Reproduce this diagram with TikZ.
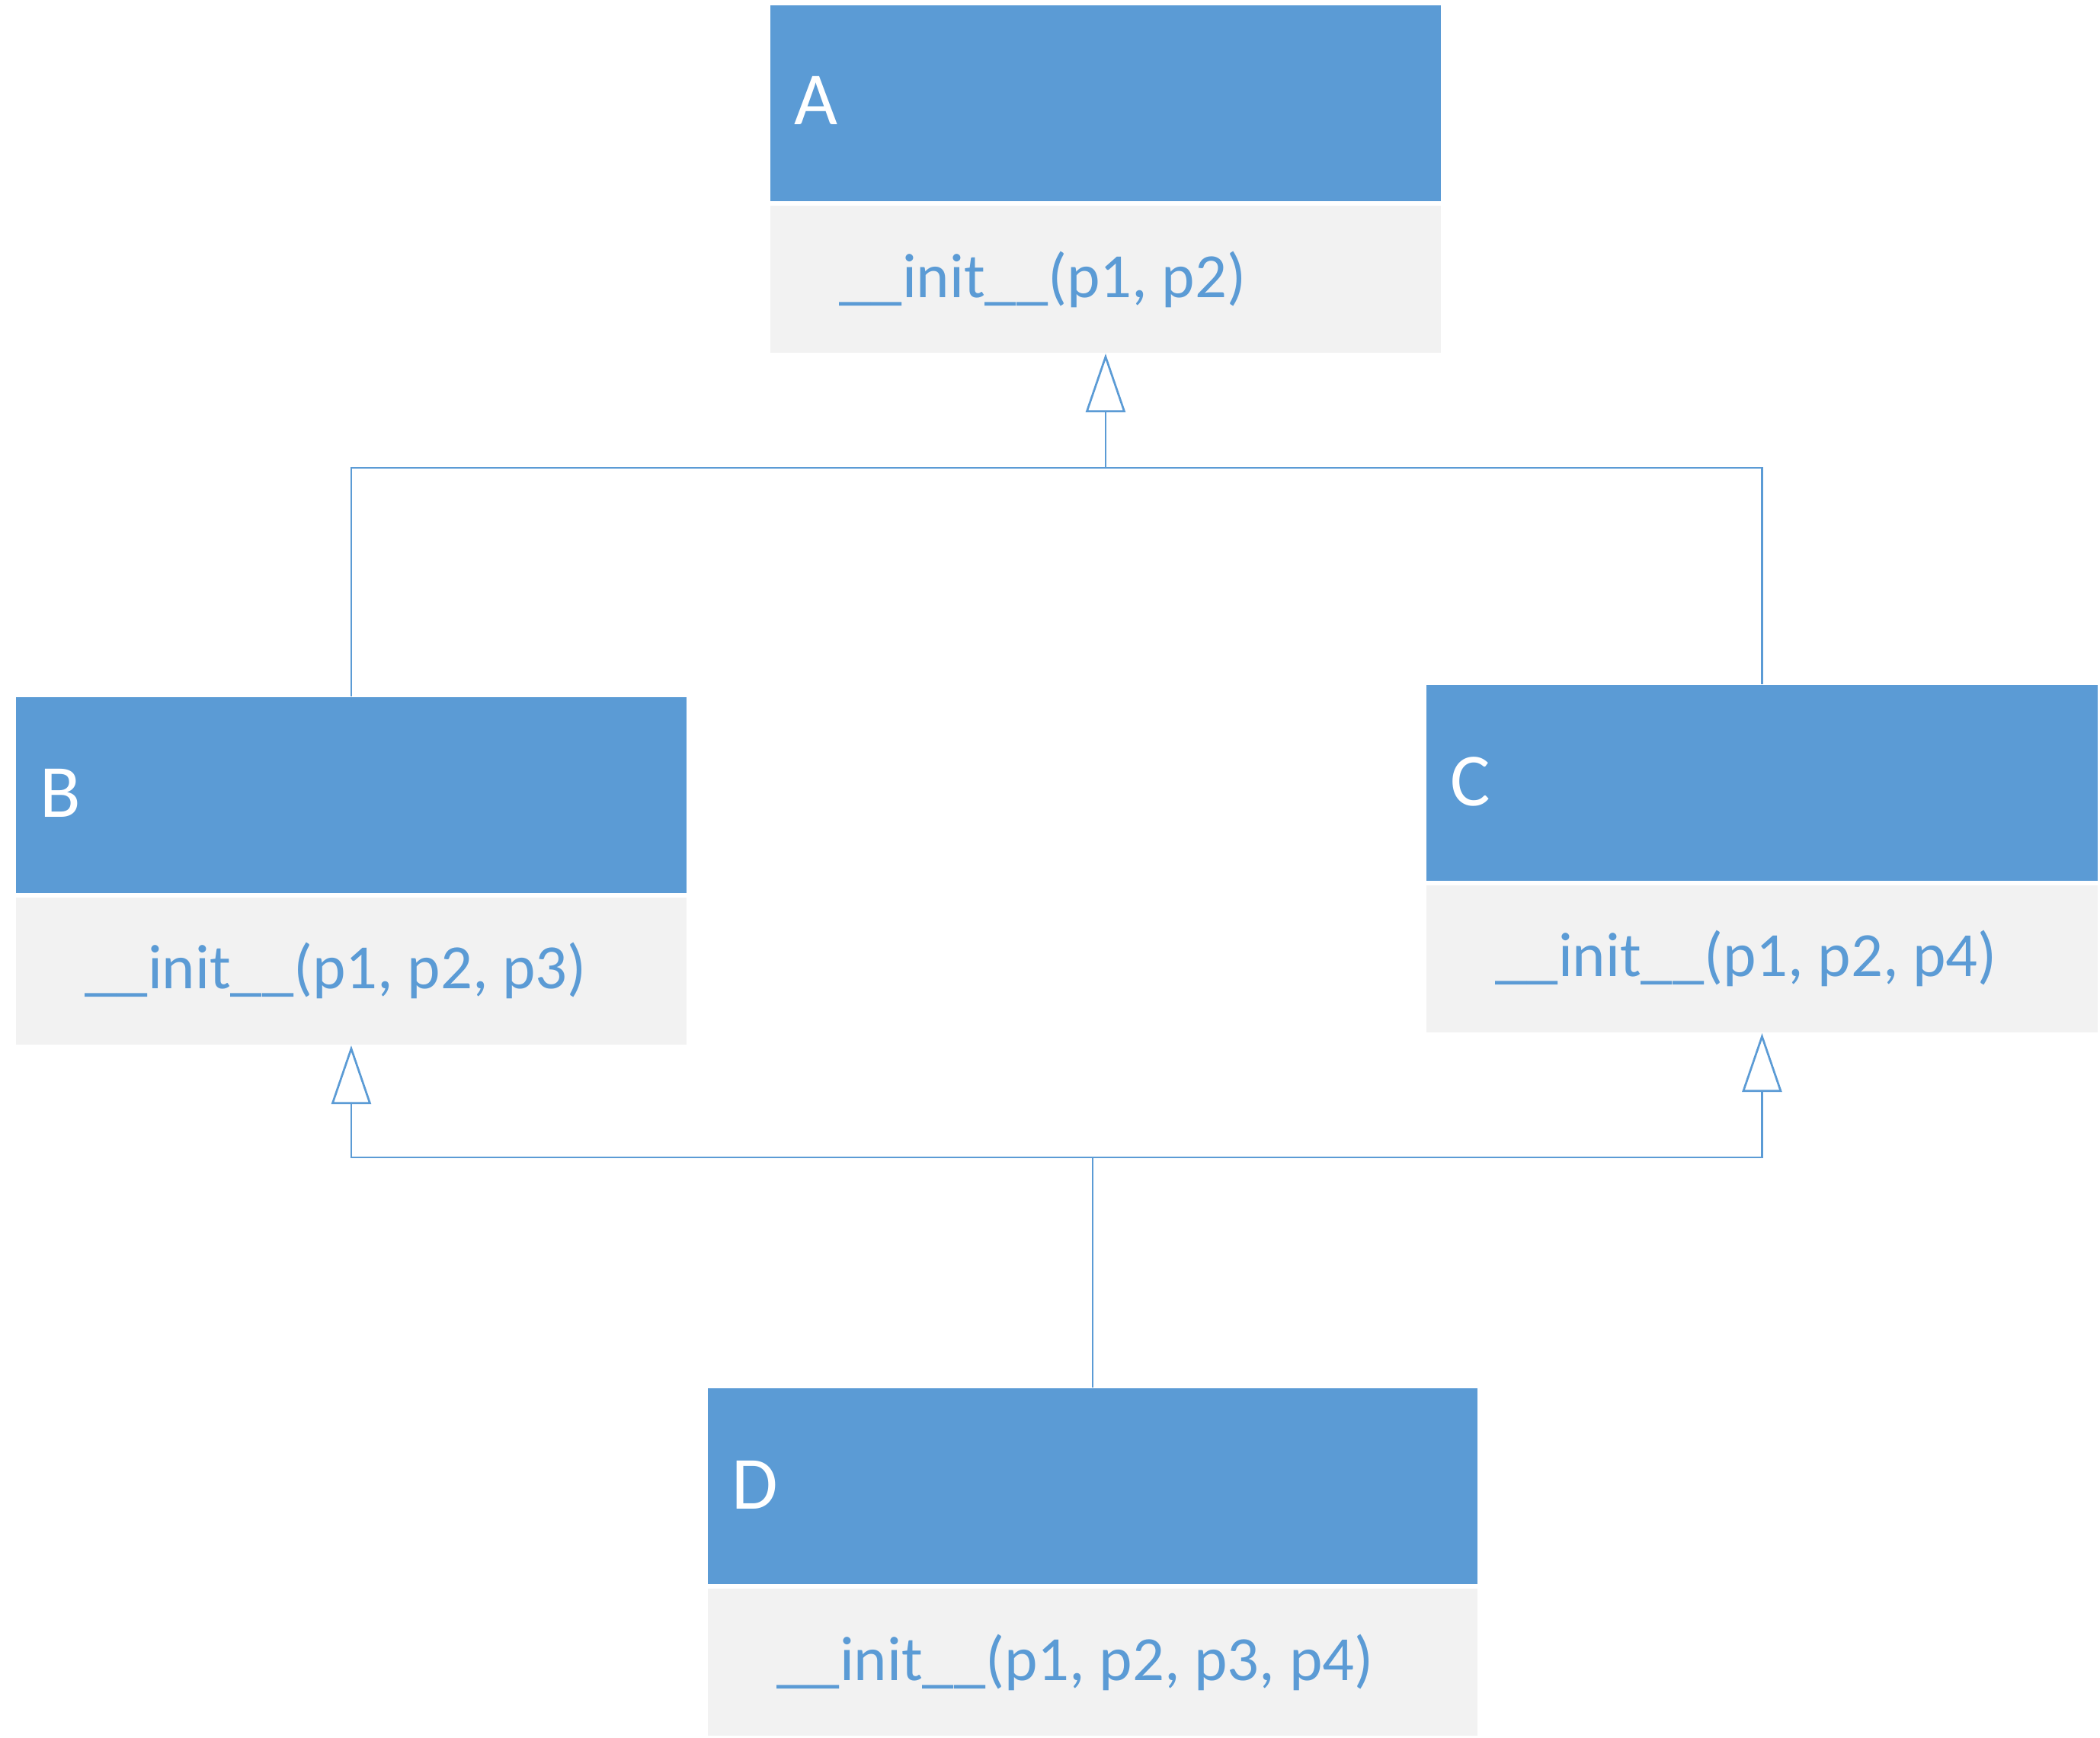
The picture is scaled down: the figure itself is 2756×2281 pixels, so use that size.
\documentclass[tikz,border=0pt]{standalone}
\usepackage{fontspec}
\setmainfont{Carlito}
\usetikzlibrary{positioning, arrows.meta}
\definecolor{classblue}{HTML}{5B9BD5}
\definecolor{bodygray}{HTML}{F2F2F2}
\tikzset{
  classhead/.style = {fill=classblue, anchor=north west, inner sep=0pt, minimum height=2.57cm},
  classbody/.style = {fill=bodygray, inner sep=0pt, minimum height=1.93cm},
  classname/.style = {text=white, inner sep=0pt, anchor=base west, font=\fontsize{28}{34}\selectfont},
  classmethod/.style = {text=classblue, inner sep=0pt, anchor=base west, font=\fontsize{23.5}{28}\selectfont},
  link/.style = {classblue, line width=0.027cm},
  inherit/.style = {link, -{Triangle[open, length=0.77cm, width=0.52cm, fill=white]}}
}

\begin{document}
\begin{tikzpicture}[x=0.01cm, y=-0.01cm]
\useasboundingbox (0,0) rectangle (2756,2281);

% classes
\node[classhead, minimum width=8.8cm] (A) at (1010,6) {};
\node[classbody, minimum width=8.8cm, below=0.05cm of A] (Am) {};
\node[classname] (Aname) at ([shift={(32,157)}]A.north west) {A};
\node[classmethod] (Ainit) at ([shift={(91,121)}]Am.north west) {\_\_init\_\_(p1, p2)};

\node[classhead, minimum width=8.8cm] (B) at (20,914) {};
\node[classbody, minimum width=8.8cm, below=0.05cm of B] (Bm) {};
\node[classname] (Bname) at ([shift={(32,158)}]B.north west) {B};
\node[classmethod] (Binit) at ([shift={(91,120)}]Bm.north west) {\_\_init\_\_(p1, p2, p3)};

\node[classhead, minimum width=8.81cm] (C) at (1871,898) {};
\node[classbody, minimum width=8.81cm, below=0.05cm of C] (Cm) {};
\node[classname] (Cname) at ([shift={(32,159)}]C.north west) {C};
\node[classmethod] (Cinit) at ([shift={(91,120)}]Cm.north west) {\_\_init\_\_(p1, p2, p4)};

\node[classhead, minimum width=10.1cm] (D) at (928,1821) {};
\node[classbody, minimum width=10.1cm, below=0.05cm of D] (Dm) {};
\node[classname] (Dname) at ([shift={(32,159)}]D.north west) {D};
\node[classmethod] (Dinit) at ([shift={(91,121)}]Dm.north west) {\_\_init\_\_(p1, p2, p3, p4)};

% inheritance
\coordinate (topjoin) at (Am.south |- 0,614);
\coordinate (lowjoin) at (D.north |- 0,1519);

\draw[link] (B.north) |- (topjoin) -| (C.north);
\draw[inherit] (topjoin) -- (Am.south);

\draw[link] (D.north) -- (lowjoin);
\draw[inherit] (lowjoin) -| (Bm.south);
\draw[inherit] (lowjoin) -| (Cm.south);

\end{tikzpicture}
\end{document}
